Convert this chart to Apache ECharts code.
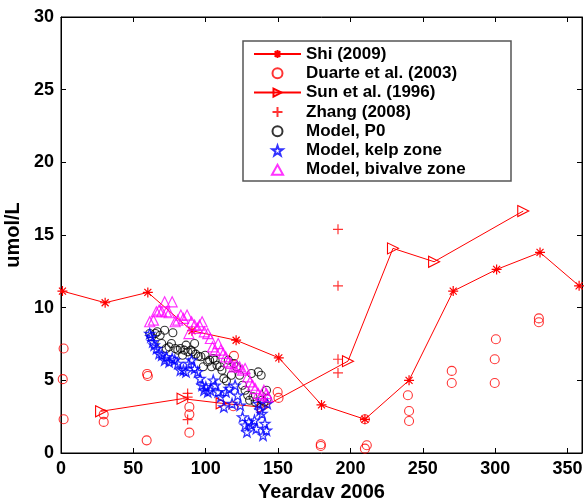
<!DOCTYPE html>
<html><head><meta charset="utf-8">
<script src="https://cdn.jsdelivr.net/npm/echarts@6/dist/echarts.min.js"></script>
<style>html,body{margin:0;padding:0;background:#fff}#c{width:584px;height:498px}</style>
</head><body><div id="c"></div>
<script>
const xTicks = [0, 50, 100, 150, 200, 250, 300, 350];
const yTicks = [0, 5, 10, 15, 20, 25, 30];
const seriesNames = ['Shi (2009)', 'Duarte et al. (2003)', 'Sun et al. (1996)', 'Zhang (2008)', 'Model, P0', 'Model, kelp zone', 'Model, bivalve zone'];

const shiDays = [1, 30.5, 60, 90.5, 121, 150.5, 180, 210, 240.5, 271, 301, 331, 358];
const shiVals = [11.14, 10.34, 11.05, 8.41, 7.76, 6.55, 3.31, 2.32, 5.0, 11.14, 12.63, 13.8, 11.5];

const sunDays = [27.7, 84, 111, 139.5, 198.3, 229.4, 257.8, 319.4];
const sunVals = [2.87, 3.74, 3.42, 3.15, 6.32, 14.08, 13.16, 16.65];

const zhangDays = [87.5, 87.5, 87.5, 191.4, 191.4, 191.4, 191.4];
const zhangVals = [4.1, 3.85, 2.3, 15.39, 11.5, 6.45, 5.51];

const duarteDays = [1.8, 1.2, 1.8, 29.5, 29.5, 59.5, 60, 59.2, 88.7, 88.7, 88.7, 119.5, 119, 149.7, 150.3, 179.5, 179.5, 210, 211.3, 210, 239.7, 240.5, 240.5, 270, 270, 300.5, 299.7, 299.7, 330.2, 330.2];
const duarteVals = [7.19, 5.08, 2.32, 2.66, 2.14, 5.44, 5.3, 0.87, 3.17, 2.66, 1.4, 6.68, 3.22, 4.2, 3.79, 0.6, 0.48, 0.3, 0.53, 2.32, 3.97, 2.89, 2.2, 5.65, 4.82, 7.83, 6.45, 4.82, 9.26, 9.0];

const p0Days = [61.3, 62.6, 65.2, 66.5, 68.5, 69.6, 71.6, 72.7, 74.7, 76.3, 77.3, 78.9, 80.7, 82.5, 84.0, 85.1, 86.4, 87.7, 89.7, 91.0, 92.3, 93.1, 94.9, 96.7, 98.3, 99.6, 101.4, 102.7, 104.0, 105.2, 106.5, 107.8, 109.9, 111.2, 112.5, 114.3, 115.6, 117.7, 119.5, 121.3, 123.4, 125.4, 127.2, 129.0, 130.3, 131.6, 132.7, 134.2, 136.3, 138.3, 138.9, 140.4, 142.0, 142.5];
const p0Vals = [8.22, 8.0, 8.22, 8.34, 8.1, 7.53, 8.45, 7.19, 7.3, 7.53, 8.27, 7.19, 7.08, 7.19, 6.73, 7.08, 7.42, 6.96, 7.08, 6.96, 7.53, 6.8, 6.66, 6.62, 5.93, 6.73, 6.27, 6.39, 5.93, 6.5, 6.39, 6.04, 5.93, 5.7, 5.12, 4.96, 6.39, 5.35, 6.16, 5.93, 5.35, 4.66, 4.32, 3.97, 3.63, 5.47, 3.86, 3.51, 5.58, 5.35, 3.63, 3.51, 4.32, 3.74];

const kelpDays = [61.3, 62.1, 63.4, 64.4, 66.0, 67.8, 69.6, 71.6, 72.9, 74.7, 76.8, 78.6, 80.7, 82.5, 84.6, 86.4, 88.4, 90.2, 92.3, 94.4, 96.2, 97.5, 98.8, 100.1, 101.4, 103.2, 105.2, 106.5, 108.6, 110.4, 112.5, 114.0, 116.1, 118.2, 120.3, 122.1, 123.9, 125.4, 127.2, 128.5, 129.8, 131.6, 133.7, 135.0, 136.3, 137.6, 138.9, 139.6, 140.9, 142.0, 142.5];
const kelpVals = [8.22, 8.0, 7.65, 7.42, 7.19, 6.85, 6.73, 6.39, 6.62, 6.27, 6.5, 6.39, 6.16, 5.7, 5.7, 5.58, 6.16, 6.39, 5.81, 5.58, 5.12, 4.66, 4.32, 4.55, 4.2, 4.32, 5.01, 4.66, 4.2, 3.86, 3.17, 4.2, 4.43, 3.4, 4.66, 3.97, 3.28, 2.48, 1.91, 1.45, 2.14, 1.91, 2.25, 1.68, 3.4, 2.94, 2.71, 1.22, 2.02, 1.56, 3.4];

const bivDays = [61.3, 63.9, 65.9, 67.8, 69.6, 71.6, 72.9, 74.7, 76.8, 78.9, 80.7, 82.8, 84.6, 87.1, 88.4, 90.2, 92.3, 94.4, 95.7, 97.5, 99.0, 101.4, 103.2, 104.7, 106.5, 108.6, 110.4, 112.2, 113.8, 115.6, 117.4, 119.5, 121.3, 123.4, 125.4, 127.2, 129.0, 130.6, 132.4, 134.2, 136.3, 138.3, 140.2, 142.0, 143.0];
const bivVals = [9.03, 9.14, 9.72, 9.83, 9.72, 10.4, 9.72, 9.65, 10.4, 9.03, 9.14, 9.49, 9.26, 9.49, 8.22, 9.03, 8.8, 8.57, 8.8, 9.03, 8.34, 8.22, 7.88, 7.3, 7.08, 7.53, 7.08, 6.85, 6.62, 6.27, 6.16, 5.93, 6.04, 5.93, 5.7, 5.81, 5.24, 4.89, 4.66, 4.43, 4.09, 3.97, 4.32, 4.09, 3.86];

function pairs(xs, ys) { return xs.map((x, i) => [x, ys[i]]); }

const FONT = 'Liberation Sans';
const RED = '#ff0000';
const asterisk = 'path://M5,0L5,10M0,5L10,5M1.5,1.5L8.5,8.5M1.5,8.5L8.5,1.5';
const plus = 'path://M5,0L5,10M0,5L10,5';
const rtri = 'path://M0,0L10,5L0,10Z';
const tri = 'path://M5,0L10,9L0,9Z';
const star = 'path://M5,0L6.18,3.38L9.76,3.45L6.9,5.62L7.94,9.05L5,7L2.06,9.05L3.1,5.62L0.24,3.45L3.82,3.38Z';

function outlined(color, w) {
  return { color: 'rgba(0,0,0,0)', borderColor: color, borderWidth: w || 1 };
}

const lineAx = { show: true, onZero: false, lineStyle: { color: '#000', width: 1 } };
const tickIn = { show: true, inside: true, length: 5, lineStyle: { color: '#000', width: 1 } };
const lbl = { color: '#000', fontFamily: FONT, fontWeight: 'bold', fontSize: 18 };

function xAx(extra) {
  return Object.assign({ type: 'value', min: 0, max: 360, interval: 50, splitLine: { show: false },
    axisLine: lineAx, axisTick: tickIn }, extra);
}
function yAx(extra) {
  return Object.assign({ type: 'value', min: 0, max: 30, interval: 5, splitLine: { show: false },
    axisLine: lineAx, axisTick: tickIn }, extra);
}

const option = {
  animation: false,
  backgroundColor: '#fff',
  grid: { left: 61, right: 2, top: 17, bottom: 45, containLabel: false, outerBoundsMode: 'none',
    show: true, borderColor: '#000', borderWidth: 1, backgroundColor: 'transparent' },
  xAxis: [
    xAx({ position: 'bottom',
      axisLabel: Object.assign({ margin: 7, showMaxLabel: false, formatter: v => (xTicks.indexOf(v) >= 0 ? String(v) : '') }, lbl),
      name: 'Yearday 2006', nameLocation: 'middle', nameGap: 27,
      nameTextStyle: { color: '#000', fontFamily: FONT, fontWeight: 'bold', fontSize: 20 } }),
    xAx({ position: 'top', axisLabel: { show: false } })
  ],
  yAxis: [
    yAx({ position: 'left',
      axisLabel: Object.assign({ margin: 7, formatter: v => (yTicks.indexOf(v) >= 0 ? String(v) : '') }, lbl),
      name: 'umol/L', nameLocation: 'middle', nameGap: 26,
      nameTextStyle: { color: '#000', fontFamily: FONT, fontWeight: 'bold', fontSize: 20 } }),
    yAx({ position: 'right', axisLabel: { show: false } })
  ],
  graphic: [{
    type: 'rect', z: 10, shape: { x: 243, y: 41, width: 268, height: 140 },
    style: { fill: '#fff', stroke: '#555', lineWidth: 1.5 }
  }],
  legend: {
    z: 20, orient: 'vertical', left: 253, top: 45.5, padding: 0,
    itemWidth: 47, itemHeight: 10, itemGap: 2.3,
    textStyle: { color: '#000', fontFamily: FONT, fontWeight: 'bold', fontSize: 17, lineHeight: 17 },
    data: seriesNames
  },
  series: [
    { name: seriesNames[0], type: 'line', data: pairs(shiDays, shiVals), symbol: asterisk, symbolSize: 10,
      lineStyle: { color: RED, width: 1 }, itemStyle: outlined(RED, 1.2), z: 2 },
    { name: seriesNames[1], type: 'scatter', data: pairs(duarteDays, duarteVals), symbol: 'circle', symbolSize: 9,
      itemStyle: outlined(RED, 1.1), z: 2 },
    { name: seriesNames[2], type: 'line', data: pairs(sunDays, sunVals), symbol: rtri, symbolSize: 11,
      lineStyle: { color: RED, width: 1 }, itemStyle: outlined(RED, 1.1), z: 2 },
    { name: seriesNames[3], type: 'scatter', data: pairs(zhangDays, zhangVals), symbol: plus, symbolSize: 10,
      itemStyle: outlined(RED, 1.2), z: 2 },
    { name: seriesNames[4], type: 'scatter', data: pairs(p0Days, p0Vals), symbol: 'circle', symbolSize: 8,
      itemStyle: outlined('#000', 1.1), z: 3 },
    { name: seriesNames[5], type: 'scatter', data: pairs(kelpDays, kelpVals), symbol: star, symbolSize: 10,
      itemStyle: outlined('#0000ff', 1.3), z: 3 },
    { name: seriesNames[6], type: 'scatter', data: pairs(bivDays, bivVals), symbol: tri, symbolSize: 10,
      itemStyle: outlined('#ff00ff', 1.2), z: 3 },
    { type: 'scatter', xAxisIndex: 1, yAxisIndex: 1, data: [], silent: true }
  ]
};
const chart = echarts.init(document.getElementById('c'), null, { renderer: 'canvas' });
chart.setOption(option);
</script></body></html>
